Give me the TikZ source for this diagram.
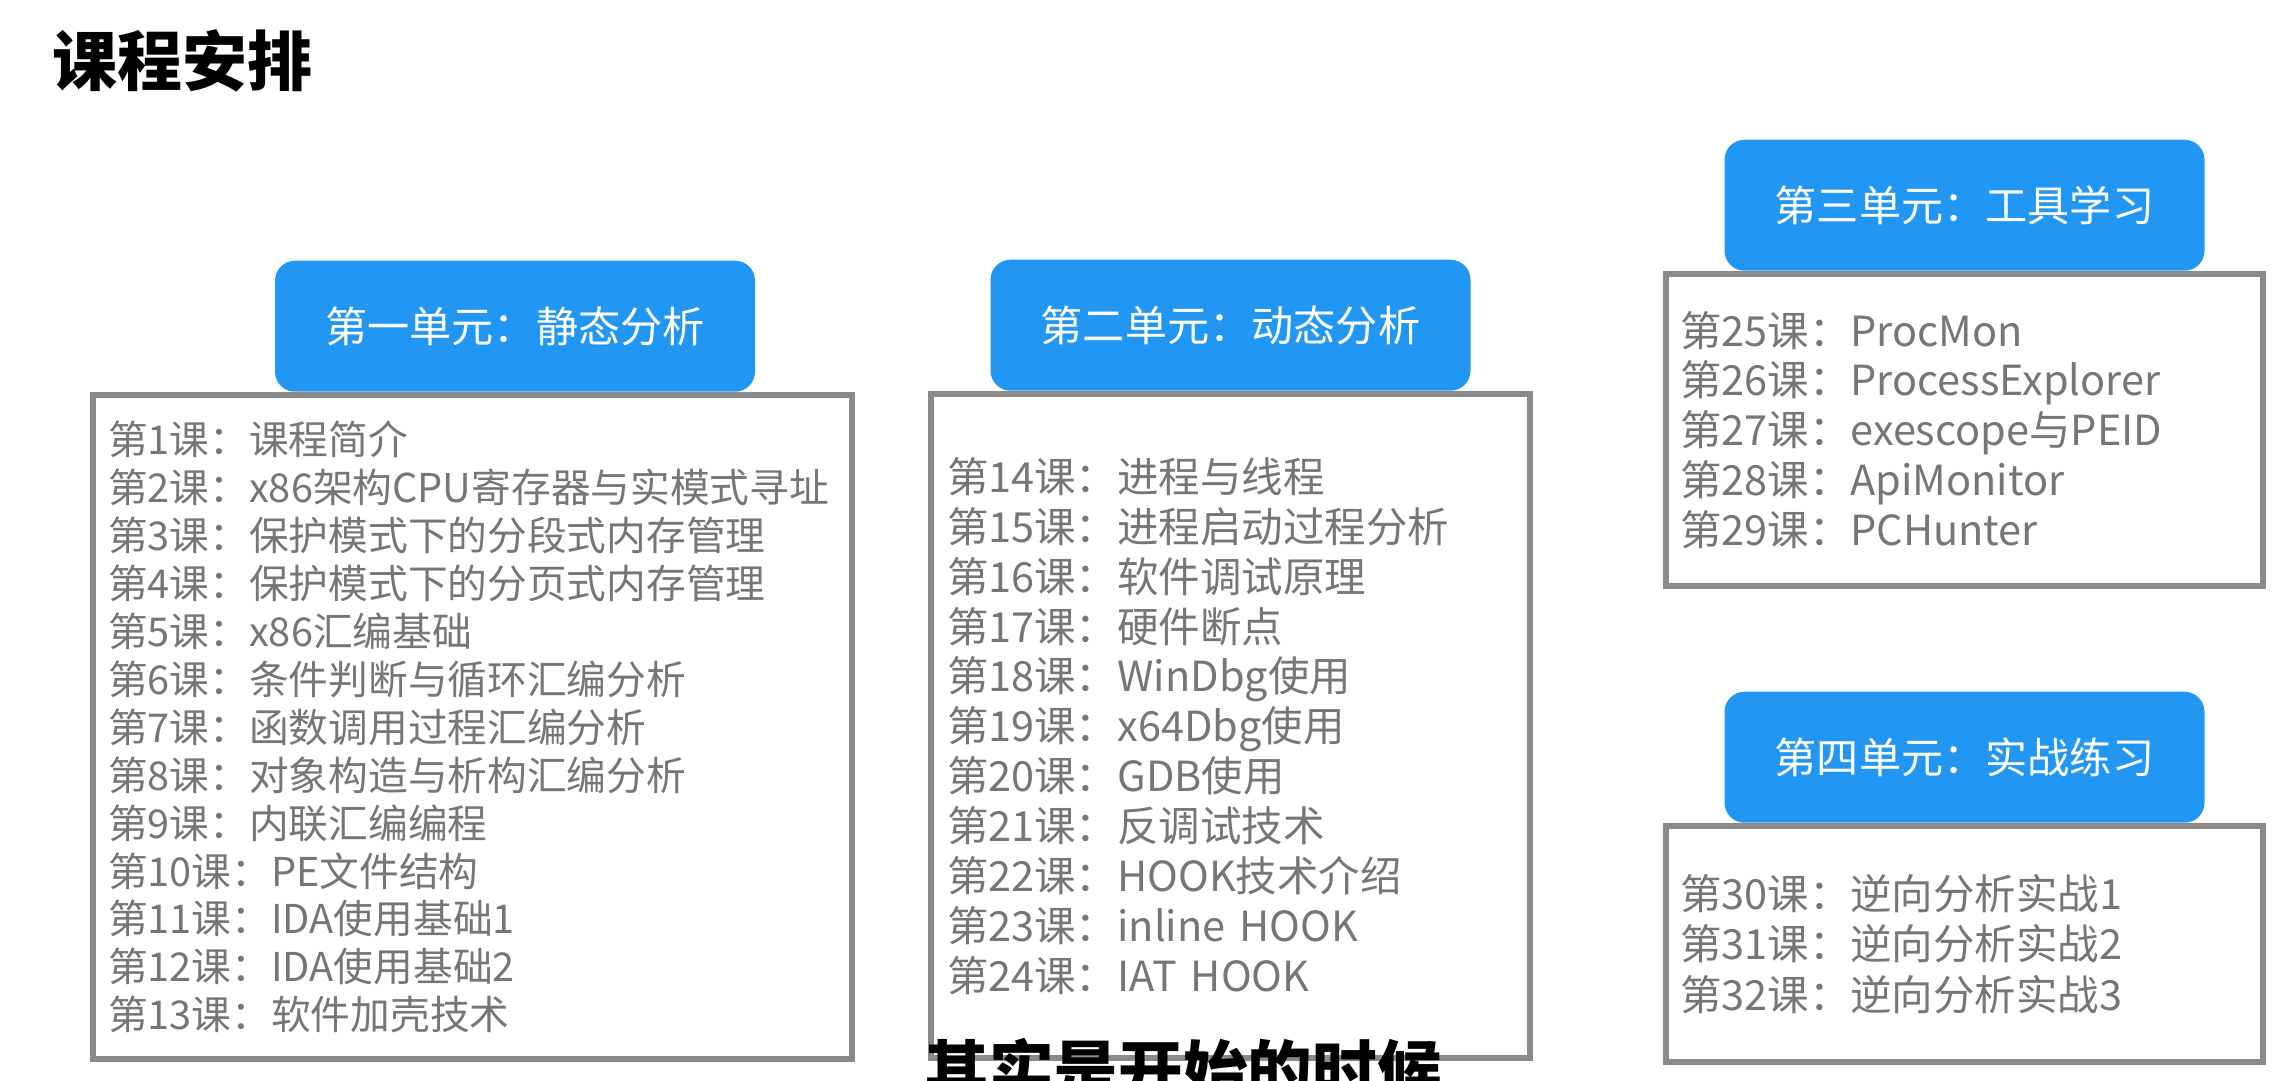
\documentclass[tikz,border=0pt]{standalone}
\usepackage{fontspec}
\setmainfont{Noto Sans CJK SC}
\usetikzlibrary{positioning}
\definecolor{unitblue}{RGB}{33,150,243}
\definecolor{framegray}{RGB}{138,138,138}
\definecolor{textgray}{RGB}{118,118,118}

\tikzset{
  lessons/.style={draw=framegray,line width=1.45pt,fill=white,align=left,text=textgray,inner ysep=0pt},
  unit/.style={fill=unitblue,rounded corners=0.2cm,text=white,minimum width=4.8cm,minimum height=1.31cm,
    font=\fontsize{12pt}{14pt}\selectfont,anchor=south},
}

\begin{document}
\begin{tikzpicture}
\useasboundingbox (0,0) rectangle (22.95,10.81);
\clip (0,0) rectangle (22.95,10.81);

% title
\node [anchor=west,inner sep=0pt,font=\fontsize{18.5pt}{20pt}\selectfont\bfseries] (title) at (0.52,10.20) {课程安排};

%% lesson boxes
% unit one
\node [lessons,inner xsep=0.15cm,text width=7.29cm,minimum height=6.64cm,font=\fontsize{11.3pt}{13.65pt}\selectfont] (box1) at (4.725,3.54) {%
第1课：课程简介\\
第2课：x86架构CPU寄存器与实模式寻址\\
第3课：保护模式下的分段式内存管理\\
第4课：保护模式下的分页式内存管理\\
第5课：x86汇编基础\\
第6课：条件判断与循环汇编分析\\
第7课：函数调用过程汇编分析\\
第8课：对象构造与析构汇编分析\\
第9课：内联汇编编程\\
第10课：PE文件结构\\
第11课：IDA使用基础1\\
第12课：IDA使用基础2\\
第13课：软件加壳技术};
% unit two
\node [lessons,inner xsep=0.16cm,text width=5.67cm,minimum height=6.64cm,font=\fontsize{11.8pt}{14.2pt}\selectfont] (box2) at (12.305,3.55) {%
第14课：进程与线程\\
第15课：进程启动过程分析\\
第16课：软件调试原理\\
第17课：硬件断点\\
第18课：WinDbg使用\\
第19课：x64Dbg使用\\
第20课：GDB使用\\
第21课：反调试技术\\
第22课：HOOK技术介绍\\
第23课：inline HOOK\\
第24课：IAT HOOK};
% unit three
\node [lessons,inner xsep=0.14cm,text width=5.69cm,minimum height=3.12cm,font=\fontsize{11.8pt}{14.2pt}\selectfont] (box3) at (19.645,6.51) {%
第25课：ProcMon\\
第26课：ProcessExplorer\\
第27课：exescope与PEID\\
第28课：ApiMonitor\\
第29课：PCHunter};
% unit four
\node [lessons,inner xsep=0.14cm,text width=5.69cm,minimum height=2.36cm,font=\fontsize{11.8pt}{14.4pt}\selectfont] (box4) at (19.645,1.37) {%
第30课：逆向分析实战1\\
第31课：逆向分析实战2\\
第32课：逆向分析实战3};

%% unit headers
\node [unit,xshift=0.425cm] (unit1) at (box1.north) {第一单元：静态分析};
\node [unit] (unit2) at (box2.north) {第二单元：动态分析};
\node [unit] (unit3) at (box3.north) {第三单元：工具学习};
\node [unit] (unit4) at (box4.north) {第四单元：实战练习};

% caption at the bottom edge
\node [font=\fontsize{18.4pt}{20pt}\selectfont\bfseries] (caption) at (11.83,0.11) {其实是开始的时候};

\end{tikzpicture}
\end{document}
